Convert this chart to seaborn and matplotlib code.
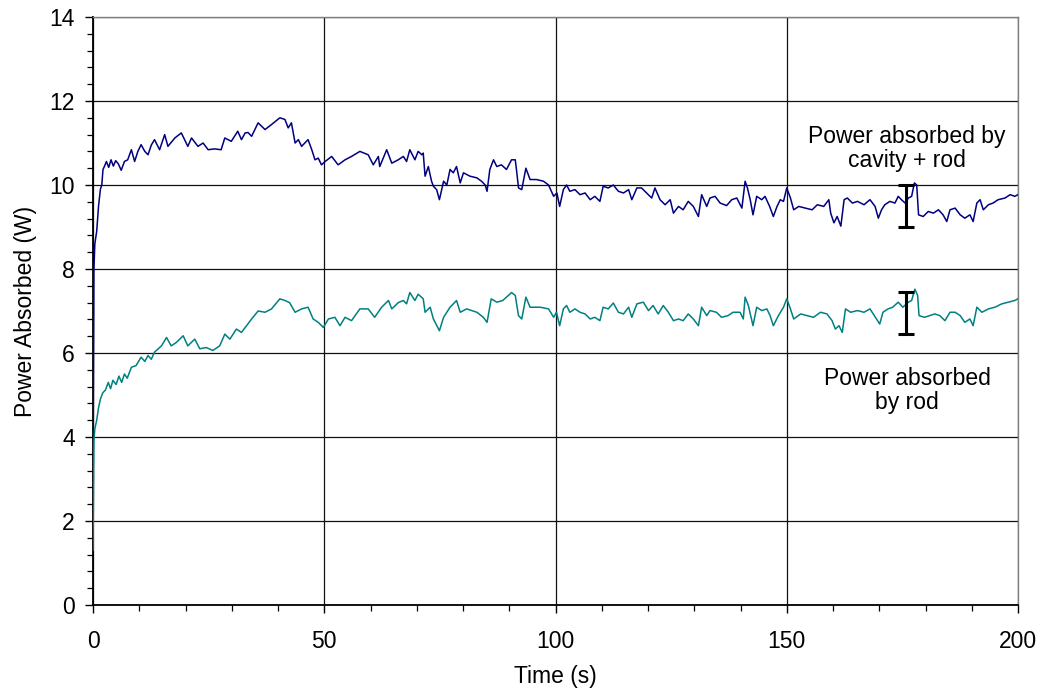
import numpy as np
import pandas as pd
import matplotlib
matplotlib.use("Agg")
import matplotlib.pyplot as plt
from matplotlib.ticker import MultipleLocator
import seaborn as sns

# Power absorbed by cavity + rod (W) versus time (s)
time_cavity = [
    0.0, 0.2, 0.4, 0.8, 1.2, 1.6, 1.9, 2.16, 2.5, 2.9, 3.4, 3.9, 4.4, 4.9, 5.5,
    6.1, 6.8, 7.5, 8.3, 9.0, 9.7, 10.4, 11.2, 11.9, 12.6, 13.3, 14.4, 15.5, 16.2,
    17.7, 19.1, 20.5, 21.3, 22.7, 23.8, 24.9, 26.3, 27.7, 28.5, 29.9, 31.3, 32.1,
    32.9, 33.5, 34.3, 35.7, 37.2, 38.6, 40.4, 41.5, 42.2, 42.9, 43.7, 44.4, 45.1,
    46.5, 47.3, 48.0, 48.7, 49.4, 50.2, 51.6, 53.0, 54.5, 55.9, 57.7, 59.5, 60.6,
    61.7, 62.0, 63.5, 64.6, 66.0, 67.1, 67.8, 68.5, 69.6, 70.3, 71.1, 71.4, 71.8,
    72.5, 73.2, 73.6, 74.3, 74.9, 75.8, 76.5, 77.2, 77.9, 78.6, 79.4, 80.1, 81.5,
    83.0, 84.0, 84.8, 85.2, 85.8, 86.6, 87.3, 88.3, 89.4, 90.5, 91.3, 91.6, 92.0,
    92.7, 93.6, 94.5, 95.9, 97.4, 98.5, 99.6, 100.3, 100.9, 101.7, 102.4, 103.1,
    104.2, 105.3, 106.4, 107.5, 108.5, 109.6, 110.3, 111.4, 112.5, 113.6, 114.7,
    115.8, 116.5, 117.6, 118.6, 119.7, 120.8, 121.5, 122.6, 123.7, 124.8, 125.5,
    126.6, 127.6, 128.7, 129.8, 130.9, 131.6, 132.7, 133.4, 134.5, 135.6, 137.0,
    138.1, 139.2, 140.3, 141.0, 141.5, 142.1, 142.7, 143.5, 144.6, 145.3, 146.3,
    147.1, 147.9, 148.6, 149.3, 150.0, 150.8, 151.5, 152.6, 154.0, 155.5, 156.6,
    158.0, 159.1, 159.5, 160.2, 160.9, 161.7, 162.4, 163.1, 164.2, 165.3, 166.7,
    168.0, 169.1, 169.8, 170.5, 171.2, 172.3, 173.4, 174.1, 174.8, 175.6, 176.3,
    177.0, 177.6, 178.1, 178.5, 179.5, 180.6, 181.7, 182.8, 183.8, 184.6, 185.3,
    186.4, 187.5, 188.5, 189.6, 190.3, 191.1, 191.8, 192.5, 193.6, 194.6, 195.7,
    197.2, 198.3, 199.3, 200.0,
]
power_cavity = [
    2.5, 8.0, 8.6, 8.9, 9.5, 9.9, 10.0, 10.37, 10.45, 10.56, 10.42, 10.6, 10.45,
    10.58, 10.5, 10.35, 10.56, 10.6, 10.84, 10.56, 10.8, 10.96, 10.8, 10.72, 10.95,
    11.08, 10.84, 11.2, 10.92, 11.12, 11.24, 10.92, 11.12, 10.92, 11.0, 10.84,
    10.86, 10.84, 11.12, 11.04, 11.28, 11.08, 11.24, 11.25, 11.16, 11.48, 11.32,
    11.44, 11.6, 11.56, 11.36, 11.48, 11.0, 11.08, 10.92, 11.08, 10.84, 10.6,
    10.64, 10.48, 10.56, 10.68, 10.48, 10.6, 10.68, 10.8, 10.72, 10.48, 10.68,
    10.44, 10.84, 10.52, 10.6, 10.68, 10.56, 10.84, 10.6, 10.8, 10.72, 10.76,
    10.21, 10.44, 10.09, 9.97, 9.89, 9.65, 10.09, 10.0, 10.37, 10.29, 10.44,
    10.05, 10.29, 10.21, 10.17, 10.09, 10.0, 9.85, 10.37, 10.6, 10.44, 10.48,
    10.37, 10.6, 10.6, 10.33, 9.93, 9.89, 10.4, 10.13, 10.13, 10.09, 10.0, 9.73,
    9.81, 9.49, 9.89, 10.0, 9.85, 9.89, 9.77, 9.81, 9.65, 9.73, 9.61, 9.97, 9.93,
    10.0, 9.85, 9.81, 9.89, 9.65, 9.93, 9.93, 9.81, 9.69, 9.93, 9.65, 9.53, 9.65,
    9.33, 9.49, 9.41, 9.61, 9.49, 9.25, 9.77, 9.49, 9.69, 9.73, 9.57, 9.51, 9.65,
    9.69, 9.45, 10.09, 9.93, 9.65, 9.29, 9.73, 9.65, 9.73, 9.49, 9.25, 9.49, 9.65,
    9.61, 9.93, 9.69, 9.41, 9.49, 9.45, 9.41, 9.53, 9.49, 9.65, 9.33, 9.1, 9.25,
    9.02, 9.65, 9.69, 9.57, 9.61, 9.53, 9.65, 9.49, 9.21, 9.41, 9.53, 9.61, 9.57,
    9.73, 9.65, 9.57, 9.69, 9.73, 10.05, 10.0, 9.29, 9.25, 9.37, 9.33, 9.41, 9.29,
    9.13, 9.41, 9.45, 9.29, 9.21, 9.29, 9.13, 9.57, 9.65, 9.41, 9.53, 9.57, 9.65,
    9.69, 9.77, 9.73, 9.77,
]

# Power absorbed by rod (W) versus time (s)
time_rod = [
    0.0, 0.2, 0.4, 0.8, 1.2, 1.6, 2.1, 2.7, 3.3, 3.8, 4.3, 5.0, 5.6, 6.2, 6.8,
    7.4, 8.3, 9.3, 10.4, 11.2, 11.9, 12.6, 13.3, 14.8, 15.9, 16.9, 18.0, 19.5,
    20.5, 22.0, 23.1, 24.5, 25.9, 27.4, 28.5, 29.6, 31.0, 32.1, 33.2, 34.3, 35.7,
    37.2, 38.6, 40.4, 41.5, 42.5, 43.7, 45.1, 46.5, 47.6, 48.7, 49.8, 50.9, 52.3,
    53.4, 54.5, 55.9, 57.7, 59.5, 60.9, 62.4, 63.9, 64.6, 66.0, 67.1, 67.8, 68.5,
    69.6, 70.3, 71.4, 71.8, 72.9, 73.6, 74.9, 75.8, 77.2, 78.6, 79.4, 80.8, 83.0,
    84.4, 85.2, 86.1, 87.3, 88.6, 90.5, 91.3, 92.0, 92.7, 93.6, 94.5, 96.7, 98.5,
    99.6, 100.2, 100.9, 101.7, 102.4, 103.1, 104.2, 105.3, 106.4, 107.5, 108.5,
    109.6, 110.3, 111.4, 112.5, 113.6, 114.7, 115.8, 116.5, 117.6, 119.0, 120.1,
    121.1, 122.2, 123.3, 124.4, 125.5, 126.6, 127.6, 128.7, 129.8, 130.9, 131.6,
    132.7, 133.4, 134.8, 135.9, 137.3, 138.4, 139.9, 140.6, 141.0, 141.7, 142.7,
    143.5, 144.6, 145.7, 146.4, 147.1, 148.2, 149.3, 150.0, 150.8, 151.5, 153.0,
    154.4, 155.8, 157.3, 158.7, 159.8, 160.5, 161.3, 162.0, 162.7, 163.8, 165.3,
    166.7, 168.0, 169.4, 170.1, 170.8, 171.9, 172.9, 174.1, 175.1, 176.3, 177.0,
    177.7, 178.3, 178.6, 179.8, 180.9, 182.0, 183.1, 184.2, 185.3, 186.4, 187.5,
    188.5, 189.6, 190.3, 191.1, 192.2, 193.6, 195.0, 196.5, 197.9, 199.3, 200.0,
]
power_rod = [
    1.3, 3.9, 4.2, 4.4, 4.7, 4.9, 5.05, 5.12, 5.3, 5.15, 5.35, 5.25, 5.45, 5.3,
    5.5, 5.4, 5.66, 5.7, 5.9, 5.8, 5.94, 5.85, 6.02, 6.17, 6.37, 6.17, 6.25, 6.41,
    6.17, 6.33, 6.1, 6.13, 6.06, 6.17, 6.45, 6.33, 6.57, 6.49, 6.65, 6.81, 7.0,
    6.97, 7.05, 7.29, 7.25, 7.2, 6.97, 7.05, 7.09, 6.81, 6.73, 6.61, 6.81, 6.85,
    6.65, 6.85, 6.77, 7.05, 7.05, 6.85, 7.09, 7.25, 7.05, 7.2, 7.25, 7.17, 7.44,
    7.25, 7.4, 7.29, 6.97, 7.09, 6.81, 6.53, 6.85, 7.09, 7.25, 6.97, 7.05, 6.97,
    6.85, 6.73, 7.29, 7.21, 7.25, 7.44, 7.37, 6.89, 6.81, 7.33, 7.09, 7.09, 7.05,
    6.85, 6.97, 6.65, 7.05, 7.13, 6.97, 7.05, 6.97, 6.93, 6.81, 6.85, 6.77, 7.09,
    7.05, 7.19, 6.97, 6.93, 7.09, 6.85, 7.17, 7.21, 7.01, 7.13, 6.93, 7.13, 6.97,
    6.77, 6.81, 6.77, 6.93, 6.81, 6.65, 7.09, 6.89, 7.01, 6.97, 6.85, 6.89, 6.97,
    6.97, 6.81, 7.33, 7.13, 6.65, 7.09, 7.01, 7.05, 6.89, 6.65, 6.89, 7.09, 7.29,
    7.05, 6.81, 6.93, 6.89, 6.85, 6.97, 6.93, 6.77, 6.57, 6.65, 6.49, 7.05, 6.97,
    7.01, 6.97, 7.05, 6.81, 6.69, 6.97, 7.05, 7.09, 7.21, 7.09, 7.21, 7.25, 7.52,
    7.37, 6.89, 6.85, 6.89, 6.93, 6.89, 6.77, 6.97, 6.97, 6.89, 6.73, 6.81, 6.65,
    7.09, 6.97, 7.05, 7.09, 7.17, 7.21, 7.25, 7.29,
]

# Measurement uncertainty markers
err_time = [175.7, 175.7]
err_center = [9.5, 6.96]
err_half = [0.5, 0.5]

curve_labels = ["Power absorbed by\ncavity + rod", "Power absorbed\nby rod"]
label_pos_x = [176.0, 176.0]
label_pos_y = [10.87, 5.1]

NAVY = "#000080"
TEAL = "#008080"

sns.set_theme(style="white")
plt.rcParams["font.family"] = ["Liberation Sans", "DejaVu Sans"]
plt.rcParams["text.color"] = "black"
plt.rcParams["axes.labelcolor"] = "black"
plt.rcParams["xtick.color"] = "black"
plt.rcParams["ytick.color"] = "black"

fig = plt.figure(figsize=(10.44, 6.89), dpi=100)
ax = fig.add_axes([93 / 1044, 1 - 605 / 689, (1018 - 93) / 1044, (605 - 17) / 689])

df_cavity = pd.DataFrame({"t": time_cavity, "p": power_cavity})
df_rod = pd.DataFrame({"t": time_rod, "p": power_rod})
sns.lineplot(data=df_cavity, x="t", y="p", color=NAVY, lw=1.1, ax=ax,
             estimator=None, sort=False, zorder=3)
sns.lineplot(data=df_rod, x="t", y="p", color=TEAL, lw=1.1, ax=ax,
             estimator=None, sort=False, zorder=3)

ax.errorbar(err_time, err_center, yerr=err_half, fmt="none", ecolor="black",
            elinewidth=2.2, capsize=5.5, capthick=2.2, zorder=4)

for txt, lx, ly in zip(curve_labels, label_pos_x, label_pos_y):
    ax.text(lx, ly, txt, ha="center", va="center", fontsize=16.5,
            color="black", linespacing=1.05, zorder=5)

ax.set_xlim(0, 200)
ax.set_ylim(0, 14)
ax.xaxis.set_major_locator(MultipleLocator(50))
ax.xaxis.set_minor_locator(MultipleLocator(10))
ax.yaxis.set_major_locator(MultipleLocator(2))
ax.yaxis.set_minor_locator(MultipleLocator(0.4))

ax.grid(True, which="major", color="#111111", lw=0.9)
ax.set_axisbelow(True)
ax.tick_params(which="major", direction="out", length=6, width=1.0,
               color="black", labelcolor="black", labelsize=16.5, pad=7,
               left=True, bottom=True)
ax.tick_params(which="minor", direction="out", length=4, width=0.9,
               color="black", left=True, bottom=True)
ax.tick_params(axis="x", which="major", pad=12)

for side in ["left", "bottom"]:
    ax.spines[side].set_color("black")
    ax.spines[side].set_linewidth(1.3)
for side in ["top", "right"]:
    ax.spines[side].set_color("#808080")
    ax.spines[side].set_linewidth(1.0)

ax.set_xlabel("Time (s)", fontsize=16.5, labelpad=9, color="black")
ax.set_ylabel("Power Absorbed (W)", fontsize=16.5, labelpad=9, color="black")

fig.savefig("out.png", dpi=100)
